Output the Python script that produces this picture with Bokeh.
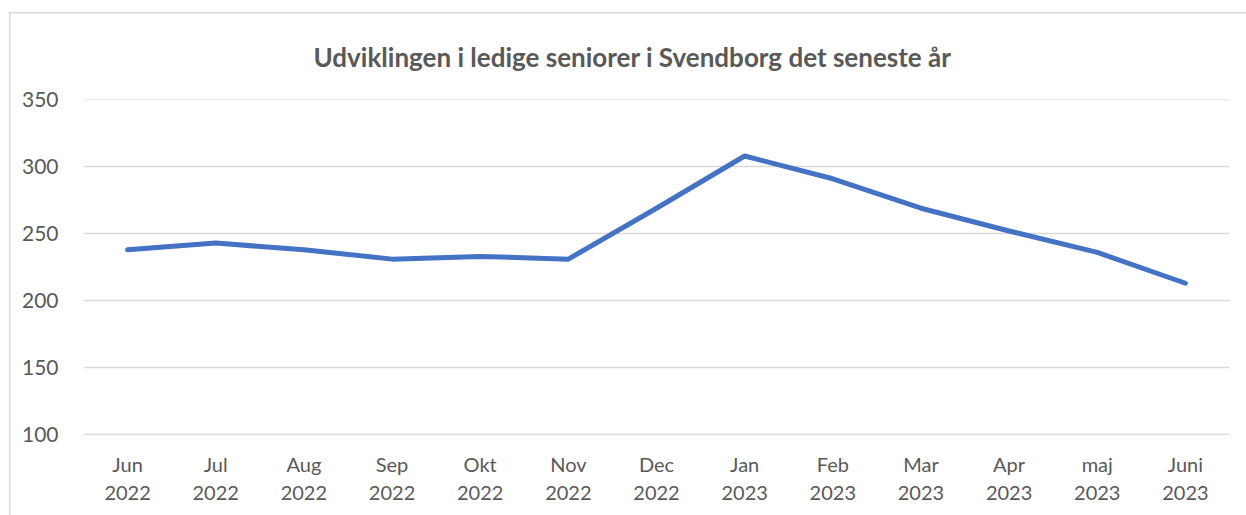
from bokeh.plotting import figure
from bokeh.models import Range1d, FactorRange, SingleIntervalTicker
from bokeh.embed import file_html
from bokeh.resources import INLINE

months = ["Jun\n2022", "Jul\n2022", "Aug\n2022", "Sep\n2022", "Okt\n2022", "Nov\n2022",
          "Dec\n2022", "Jan\n2023", "Feb\n2023", "Mar\n2023", "Apr\n2023", "maj\n2023", "Juni\n2023"]
values = [238, 243, 238, 231, 233, 231, 269, 308, 291, 269, 252, 236, 213]
title_text = "Udviklingen i ledige seniorer i Svendborg det seneste år"

FONT = "Lato"
TXT = "#595959"
BORDER = "#d9d9d9"

p = figure(width=1246, height=515, frame_width=1146, frame_height=336,
           output_backend="svg", toolbar_location=None,
           x_range=FactorRange(*months, range_padding=0),
           y_range=Range1d(99.3, 350.2),
           min_border_left=83, min_border_right=17, min_border_top=99, min_border_bottom=80,
           title=title_text)

p.title.align = "left"
p.title.offset = 230
p.title.text_font = FONT
p.title.text_font_size = "26px"
p.title.text_font_style = "bold"
p.title.text_color = TXT
p.title.standoff = 54

p.line(x=months, y=values, line_color="#4472C4", line_width=5,
       line_cap="round", line_join="round")

p.outline_line_color = None
p.background_fill_color = "white"
p.border_fill_color = None
p.styles = {
    "background-color": "white",
    "background-image": f"linear-gradient({BORDER},{BORDER}), linear-gradient({BORDER},{BORDER})",
    "background-size": "1.5px 100%, 100% 1.5px",
    "background-position": "9px 12px, 9px 12px",
    "background-repeat": "no-repeat",
}

p.xgrid.grid_line_color = None
p.ygrid.grid_line_color = BORDER
p.ygrid.grid_line_width = 1.5

p.yaxis.ticker = SingleIntervalTicker(interval=50)
for ax in (p.xaxis[0], p.yaxis[0]):
    ax.axis_line_color = None
    ax.major_tick_line_color = None
    ax.minor_tick_line_color = None
    ax.major_label_text_font = FONT
    ax.major_label_text_color = TXT
p.yaxis.major_label_text_font_size = "21px"
p.yaxis.major_label_standoff = 19
p.xaxis.major_label_text_font_size = "20px"
p.xaxis.major_label_standoff = 10
p.xaxis.major_label_text_line_height = 1.2

open("out.html", "w").write(file_html(p, INLINE))
